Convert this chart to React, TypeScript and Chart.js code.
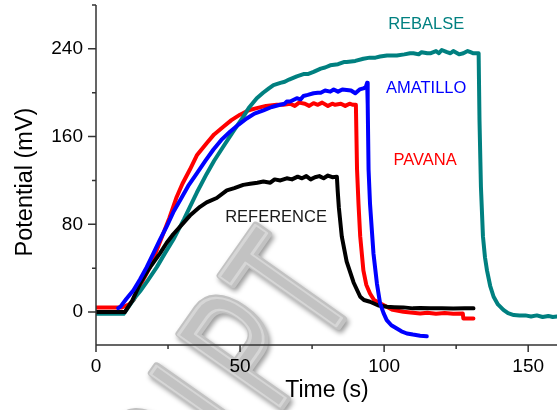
import React, { useEffect, useRef } from "react";
import { Chart, registerables } from "chart.js";

Chart.register(...registerables);

const FONT = '"Liberation Sans", Arial, Helvetica, sans-serif';

// ---- data (time in s, potential in mV) ----
const rebalseTime = [0, 4, 8, 9.6, 12, 13.6, 15.3, 18, 21.1, 24, 26.8, 28.6, 30.6, 32.6, 35, 38.4, 41, 44.2, 47.7, 51.1, 53, 55.8, 58, 60, 61.6, 64, 65.5, 67, 69.7, 72, 73.5, 75.5, 78, 79.5, 81.3, 84, 86, 87, 90, 92.8, 95, 97, 98.6, 101, 104.4, 107, 109, 110.2, 112, 113, 115, 116, 118, 119, 120, 121.8, 123, 124, 126, 127.5, 129, 130, 131, 132.4, 132.8, 133.1, 133.6, 134.3, 135, 135.7, 136.8, 138, 139.5, 141.4, 143, 145, 147, 149, 151, 153, 155, 157, 158.5, 160];
const rebalseValue = [-1.5, -1.5, -1.5, -1.5, 7.5, 13.5, 19, 29, 41, 54, 66, 75, 85, 96, 109, 126, 138, 151, 165, 178, 186, 195, 200, 204, 207, 209, 210, 212, 215, 217, 217, 219, 222, 223, 225, 226, 228, 228, 229, 231, 232, 232, 233, 234, 234, 235, 236, 236, 235, 237, 236, 236, 238, 236, 239, 237, 236, 238, 235, 236, 238, 237, 236, 236, 236, 175, 114, 69, 50, 38, 24, 14, 7, 2, -1, -2.7, -3, -3, -4, -3, -4.5, -3.5, -4.5, -4];

const amatilloTime = [7.7, 8.5, 10.5, 13, 15.3, 17.6, 20, 22.2, 24.5, 26.8, 29.2, 32, 35, 38, 40.7, 43.5, 46.5, 49.5, 52.3, 55, 58.1, 61, 63.9, 65.5, 66.2, 67.4, 69.7, 71, 72, 73.5, 75.5, 77, 78, 79.5, 81.3, 82.5, 84, 85.5, 87, 88.5, 90, 91.5, 92.8, 93.6, 94.1, 94.3, 94.6, 95.1, 96.3, 97.5, 98.6, 99.8, 100.9, 102.5, 104.4, 106, 107.9, 110, 112.5, 114.8];
const amatilloValue = [3.6, 5, 12, 20, 30, 41, 54, 66, 78, 91, 102, 115, 126.5, 138, 148, 157, 164.5, 171, 176.5, 181, 184, 187, 189, 190, 192, 192, 195, 194, 197, 198, 199.5, 200, 200, 202, 201, 203, 201, 203, 202.5, 202, 199.5, 203, 204, 205, 209, 190, 130, 99, 53.5, 26, 8, -1, -7.3, -12, -15, -17.5, -19.5, -20.5, -21.5, -22];

const pavanaTime = [0, 5, 9, 11.5, 13, 15.5, 18.75, 21, 23.4, 25.5, 28, 30, 32.6, 35, 38.4, 41, 44.2, 47, 50, 53, 55.8, 59, 62.7, 65, 67.4, 69, 70.5, 72.5, 74, 75.5, 77, 78.5, 80.5, 82, 83, 85, 86.5, 88, 89.2, 90.2, 90.6, 91.1, 91.7, 92.8, 93.8, 95.1, 96.5, 98.6, 100.9, 103, 106.7, 110, 112.5, 115, 118, 121, 124, 127.3, 127.5, 131];
const pavanaValue = [4.2, 4.2, 4.2, 7, 11, 25, 41, 56, 72, 86, 105, 117, 130, 143, 154, 162, 169, 175, 180, 184, 186, 188, 189, 189, 190, 188, 191, 190, 188, 190.5, 189, 191, 188, 190, 189, 190, 188, 190, 189, 189, 130, 99, 69, 38, 25, 17, 11, 8, 4.8, 2, 0.3, -0.6, -1.2, -0.5, -1.5, -0.8, -1.5, -1.2, -5.8, -5.8];

const referenceTime = [0, 5, 10, 12.5, 15.3, 18, 22.2, 24.5, 26.8, 29.2, 32.6, 36.1, 38.4, 41.9, 45.4, 48, 51.1, 53.5, 56, 58.1, 60.5, 62, 64, 66.2, 68, 70, 71.5, 73, 74.5, 76, 77.5, 79, 80.5, 82, 83.6, 83.9, 84.3, 85.3, 87, 89.4, 91.7, 93, 95.1, 98, 101, 103.5, 106.7, 110, 112.5, 116, 120, 124, 128, 131];
const referenceValue = [0, 0, 0, 10, 26, 38, 53.5, 63, 71, 78, 88, 96, 100, 104, 111, 113, 116, 117, 118, 119, 118, 121, 120, 122, 121, 123.5, 122, 124, 121, 123, 124, 122, 124.5, 123, 123.5, 110, 95, 69, 46, 27, 14, 11, 9.4, 6, 4.8, 4.5, 4.3, 3.4, 3.8, 3.4, 3.6, 3.2, 3.6, 3.4];

const seriesNames = ["REBALSE", "AMATILLO", "PAVANA", "REFERENCE"];
const seriesColors = ["#008080", "#0000ff", "#ff0000", "#000000"];

// in-plot label anchors (data coordinates)
const labelTime = [114.6, 114.6, 114.2, 62.5];
const labelValue = [262, 203.5, 138, 86.7];
const labelColors = ["#008080", "#0000ff", "#ff0000", "#1a1a1a"];

// axes
const xMin = 0, xMax = 160, yMin = -30, yMax = 280;
const xMajorTicks = [0, 50, 100, 150];
const xMinorTicks = [25, 75, 125];
const yMajorTicks = [0, 80, 160, 240];
const yMinorTicks = [40, 120, 200, 280];
const xTitle = "Time (s)";
const yTitle = "Potential (mV)";

const watermarkLetters = ["R", "I", "P", "T"];
const watermarkOffsets = [-215, -146, -75, 0];

const decorPlugin = {
  id: "decor",
  beforeDraw(chart: any) {
    const ctx = chart.ctx;
    ctx.save();
    ctx.font = `180px ${FONT}`;
    ctx.textAlign = "center";
    ctx.textBaseline = "alphabetic";
    const ox = 340, oy = 322;
    watermarkLetters.forEach((ch, i) => {
      const s = watermarkOffsets[i];
      ctx.save();
      ctx.translate(ox + s * 0.575, oy - s * 0.818);
      ctx.rotate(-0.958);
      ctx.scale(0.62, 1);
      ctx.lineJoin = "round";
      ctx.shadowColor = "rgba(0,0,0,0.4)";
      ctx.shadowBlur = 5;
      ctx.shadowOffsetX = 2;
      ctx.shadowOffsetY = 3;
      ctx.strokeStyle = "#c2c2c2";
      ctx.lineWidth = 9;
      ctx.strokeText(ch, 0, 0);
      ctx.shadowColor = "transparent";
      ctx.fillStyle = "#c2c2c2";
      ctx.fillText(ch, 0, 0);
      ctx.strokeStyle = "#d6d6d6";
      ctx.lineWidth = 3;
      ctx.strokeText(ch, -1, -1);
      ctx.restore();
    });
    ctx.restore();
  },
  afterDraw(chart: any) {
    const ctx = chart.ctx;
    const { left, right, top, bottom } = chart.chartArea;
    const xs = chart.scales.x;
    const ys = chart.scales.y;
    ctx.save();
    ctx.strokeStyle = "#333333";
    ctx.lineWidth = 1.5;
    ctx.beginPath();
    ctx.moveTo(left, top);
    ctx.lineTo(left, bottom);
    ctx.lineTo(right, bottom);
    yMajorTicks.forEach((v) => {
      const p = ys.getPixelForValue(v);
      ctx.moveTo(left - 8, p);
      ctx.lineTo(left, p);
    });
    yMinorTicks.forEach((v) => {
      const p = ys.getPixelForValue(v);
      ctx.moveTo(left - 4, p);
      ctx.lineTo(left, p);
    });
    xMajorTicks.forEach((v) => {
      const p = xs.getPixelForValue(v);
      ctx.moveTo(p, bottom);
      ctx.lineTo(p, bottom + 7);
    });
    xMinorTicks.forEach((v) => {
      const p = xs.getPixelForValue(v);
      ctx.moveTo(p, bottom);
      ctx.lineTo(p, bottom + 4);
    });
    ctx.stroke();

    // series labels
    ctx.font = `16.5px ${FONT}`;
    ctx.textAlign = "center";
    ctx.textBaseline = "middle";
    seriesNames.forEach((name, i) => {
      ctx.fillStyle = labelColors[i];
      ctx.fillText(name, xs.getPixelForValue(labelTime[i]), ys.getPixelForValue(labelValue[i]));
    });

    // axis titles
    ctx.fillStyle = "#000000";
    ctx.font = `23px ${FONT}`;
    ctx.fillText(xTitle, (left + right) / 2 + 0.5, 391);
    ctx.save();
    ctx.translate(26, 182);
    ctx.rotate(-Math.PI / 2);
    ctx.font = `23.5px ${FONT}`;
    ctx.fillText(yTitle, 0, 0);
    ctx.restore();
    ctx.restore();
  },
};

function makeData(t: number[], v: number[]) {
  return t.map((x, i) => ({ x, y: v[i] }));
}

export default function App() {
  const ref = useRef<HTMLCanvasElement | null>(null);
  useEffect(() => {
    if (!ref.current) return;
    const series = [
      { t: rebalseTime, v: rebalseValue, order: 3 },
      { t: amatilloTime, v: amatilloValue, order: 1 },
      { t: pavanaTime, v: pavanaValue, order: 4 },
      { t: referenceTime, v: referenceValue, order: 2 },
    ];
    const chart = new Chart(ref.current, {
      type: "line",
      data: {
        datasets: series.map((s, i) => ({
          label: seriesNames[i],
          data: makeData(s.t, s.v),
          borderColor: seriesColors[i],
          backgroundColor: seriesColors[i],
          borderWidth: 4,
          pointRadius: 0,
          tension: 0,
          fill: false,
          order: s.order,
          borderJoinStyle: "round" as const,
          borderCapStyle: "round" as const,
        })),
      },
      options: {
        responsive: false,
        animation: false,
        layout: { padding: { left: 0, right: 1, top: 5, bottom: 0 } },
        plugins: { legend: { display: false }, tooltip: { enabled: false } },
        scales: {
          x: {
            type: "linear",
            min: xMin,
            max: xMax,
            grid: { display: false, drawTicks: false },
            border: { display: false },
            afterBuildTicks: (s: any) => {
              s.ticks = xMajorTicks.map((v) => ({ value: v }));
            },
            ticks: {
              autoSkip: false,
              maxRotation: 0,
              padding: 10,
              color: "#000",
              font: { family: FONT, size: 19 },
            },
            afterFit: (s: any) => {
              s.height = 65;
              s.paddingLeft = 0;
              s.paddingRight = 0;
            },
          },
          y: {
            type: "linear",
            min: yMin,
            max: yMax,
            grid: { display: false, drawTicks: false },
            border: { display: false },
            afterBuildTicks: (s: any) => {
              s.ticks = yMajorTicks.map((v) => ({ value: v }));
            },
            ticks: {
              autoSkip: false,
              padding: 13,
              color: "#000",
              font: { family: FONT, size: 19 },
            },
            afterFit: (s: any) => {
              s.width = 96;
              s.paddingTop = 0;
              s.paddingBottom = 0;
            },
          },
        },
      },
      plugins: [decorPlugin],
    });
    return () => chart.destroy();
  }, []);
  return (
    <div style={{ position: "absolute", left: 0, top: 0, width: 558, height: 410, background: "#fff" }}>
      <canvas ref={ref} width={558} height={410} style={{ display: "block" }} />
    </div>
  );
}
